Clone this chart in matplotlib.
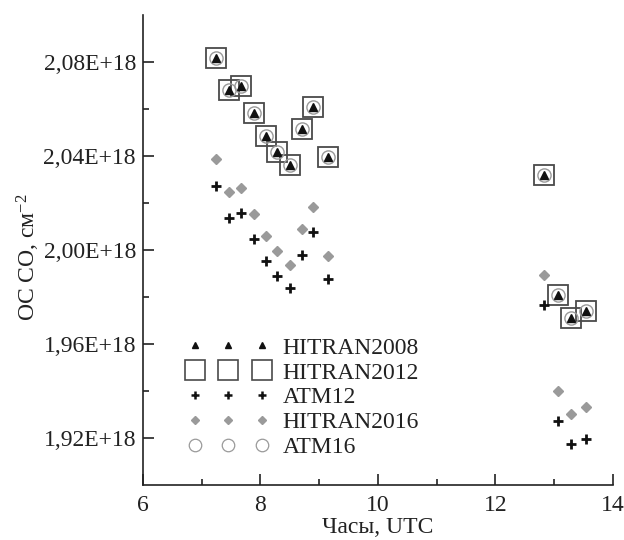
import matplotlib
matplotlib.use("Agg")
import matplotlib.pyplot as plt
from matplotlib.lines import Line2D
from matplotlib.ticker import FuncFormatter
import numpy as np

plt.rcParams['font.family'] = ['Liberation Serif', 'DejaVu Serif']
plt.rcParams['mathtext.fontset'] = 'custom'
plt.rcParams['mathtext.rm'] = 'Liberation Serif'
plt.rcParams['mathtext.it'] = 'Liberation Serif:italic'

# Hours, UTC
hours = [7.24, 7.47, 7.67, 7.89, 8.09, 8.29, 8.51, 8.71, 8.90, 9.16,
         12.83, 13.07, 13.29, 13.54]
# Total column CO, units of 1e18 cm^-2
hitran2008 = [2.0818, 2.0681, 2.0698, 2.0585, 2.0486, 2.0419, 2.0362, 2.0515, 2.0610, 2.0395,
              2.0320, 1.9810, 1.9711, 1.9739]
hitran2012 = [2.0818, 2.0681, 2.0698, 2.0585, 2.0486, 2.0419, 2.0362, 2.0515, 2.0610, 2.0395,
              2.0320, 1.9810, 1.9711, 1.9739]
atm16 = [2.0818, 2.0681, 2.0698, 2.0585, 2.0486, 2.0419, 2.0362, 2.0515, 2.0610, 2.0395,
         2.0320, 1.9810, 1.9711, 1.9739]
hitran2016 = [2.0386, 2.0249, 2.0263, 2.0154, 2.0058, 1.9994, 1.9937, 2.0089, 2.0182, 1.9973,
              1.9892, 1.9398, 1.9303, 1.9331]
atm12 = [2.0274, 2.0138, 2.0157, 2.0046, 1.9954, 1.9888, 1.9838, 1.9980, 2.0076, 1.9876,
         1.9767, 1.9271, 1.9175, 1.9196]

yticks_major = [1.92, 1.96, 2.00, 2.04, 2.08]
yticks_minor = [1.94, 1.98, 2.02, 2.06]
xticks_major = [6, 8, 10, 12, 14]
xticks_minor = [7, 9, 11, 13]
scale = 1e18
FS = 17

fig = plt.figure(figsize=(6.24, 5.4), dpi=100)
ax = fig.add_axes([0.229, 0.102, 0.753, 0.870])

h = np.array(hours)
ax.plot(h, np.array(hitran2012) * scale, ls='none', marker='s', ms=15, mfc='none',
        mec='#4a4a4a', mew=1.3, zorder=2)
ax.plot(h, np.array(atm16) * scale, ls='none', marker='o', ms=9.5, mfc='none',
        mec='#9a9a9a', mew=1.0, zorder=3)
ax.plot(h, np.array(hitran2008) * scale, ls='none', marker='^', ms=6, mfc='#111111',
        mec='#111111', zorder=4)
ax.plot(h, np.array(hitran2016) * scale, ls='none', marker='D', ms=5.5, mfc='#9a9a9a',
        mec='#9a9a9a', zorder=3)
ax.plot(h, np.array(atm12) * scale, ls='none', marker='+', ms=7, mec='#111111',
        mew=2.0, zorder=4)

ax.set_xlim(6, 14)
ax.set_ylim(1.90 * scale, 2.10 * scale)
ax.set_xticks(xticks_major)
ax.set_xticks(xticks_minor, minor=True)
ax.set_yticks([v * scale for v in yticks_major])
ax.set_yticks([v * scale for v in yticks_minor], minor=True)
ax.yaxis.set_major_formatter(FuncFormatter(
    lambda v, p: f"{v / scale:.2f}".replace('.', ',') + "E+18"))
ax.xaxis.set_major_formatter(FuncFormatter(lambda v, p: f"{v:.0f}"))

for s in ['top', 'right']:
    ax.spines[s].set_visible(False)
for s in ['left', 'bottom']:
    ax.spines[s].set_linewidth(1.2)
    ax.spines[s].set_color('#222222')

ax.tick_params(which='major', direction='in', length=8, width=1.2, labelsize=FS,
               colors='#222222')
ax.tick_params(axis='y', which='major', pad=5)
ax.tick_params(axis='x', which='major', pad=7)
ax.tick_params(which='minor', direction='in', length=4, width=1.2, colors='#222222')

ax.set_xlabel("Часы, UTC", fontsize=FS, color='#222222', labelpad=1)
ax.set_ylabel("ОС СО, см$^{-2}$", fontsize=FS, color='#222222', labelpad=1)
ax.yaxis.label.set_y(0.485)

handles = [
    Line2D([], [], ls='none', marker='^', ms=4.5, mfc='#111111', mec='#111111'),
    Line2D([], [], ls='none', marker='s', ms=15, mfc='none', mec='#4a4a4a', mew=1.2),
    Line2D([], [], ls='none', marker='+', ms=5.5, mec='#111111', mew=1.8),
    Line2D([], [], ls='none', marker='D', ms=4.5, mfc='#9a9a9a', mec='#9a9a9a'),
    Line2D([], [], ls='none', marker='o', ms=9, mfc='none', mec='#9a9a9a', mew=0.9),
]
labels = ["HITRAN2008", "HITRAN2012", "ATM12", "HITRAN2016", "ATM16"]
leg = ax.legend(handles, labels, loc='lower left', bbox_to_anchor=(0.06, 0.022),
                frameon=False, numpoints=3, handlelength=3.43, handletextpad=0.6,
                labelspacing=0.14, fontsize=FS, borderpad=0.2)
for t in leg.get_texts():
    t.set_color('#222222')

fig.savefig("out.png", dpi=100)
